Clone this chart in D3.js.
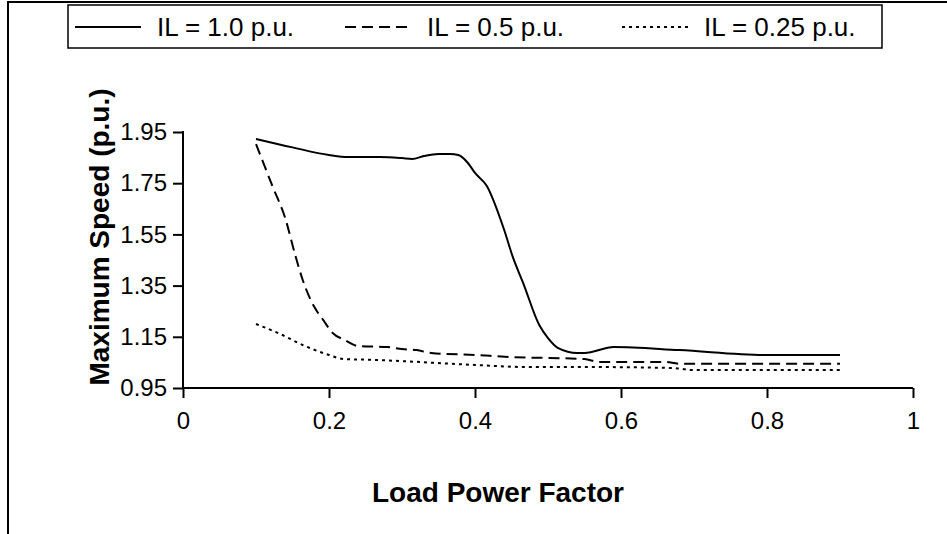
<!DOCTYPE html>
<html>
<head>
<meta charset="utf-8">
<script src="https://cdn.jsdelivr.net/npm/d3@7"></script>
<style>
  body { margin: 0; background: #fff; }
  svg { display: block; font-family: "Liberation Sans", Arial, sans-serif; }
</style>
</head>
<body>
<svg id="chart" width="947" height="534"></svg>
<script>
// load power factor vs maximum speed
const seriesNames = ["IL = 1.0 p.u.", "IL = 0.5 p.u.", "IL = 0.25 p.u."];

const pf10 = [0.10, 0.15, 0.20, 0.226, 0.27, 0.30, 0.314, 0.33, 0.35, 0.366, 0.377, 0.39, 0.40, 0.416, 0.44, 0.452, 0.466, 0.488, 0.50, 0.514, 0.54, 0.55, 0.59, 0.68, 0.80, 0.90];
const speed10 = [1.923, 1.89, 1.86, 1.852, 1.852, 1.848, 1.845, 1.856, 1.864, 1.864, 1.86, 1.83, 1.79, 1.74, 1.567, 1.46, 1.36, 1.196, 1.145, 1.106, 1.087, 1.087, 1.11, 1.098, 1.079, 1.079];

const pf05 = [0.10, 0.123, 0.14, 0.153, 0.164, 0.18, 0.192, 0.205, 0.222, 0.24, 0.28, 0.30, 0.32, 0.34, 0.40, 0.45, 0.55, 0.57, 0.66, 0.68, 0.90];
const speed05 = [1.903, 1.735, 1.614, 1.477, 1.372, 1.266, 1.216, 1.165, 1.137, 1.114, 1.11, 1.102, 1.098, 1.087, 1.079, 1.071, 1.063, 1.052, 1.052, 1.045, 1.045];

const pf025 = [0.10, 0.133, 0.164, 0.20, 0.22, 0.26, 0.30, 0.40, 0.47, 0.55, 0.67, 0.70, 0.90];
const speed025 = [1.20, 1.161, 1.118, 1.079, 1.063, 1.06, 1.055, 1.04, 1.032, 1.032, 1.028, 1.02, 1.02];

const xTicks = [0, 0.2, 0.4, 0.6, 0.8, 1];
const yTicks = [0.95, 1.15, 1.35, 1.55, 1.75, 1.95];

const svg = d3.select("#chart");
const plotLeft = 183, plotRight = 913, plotTop = 132, plotBottom = 388;

const x = d3.scaleLinear().domain([0, 1]).range([plotLeft, plotRight]);
const y = d3.scaleLinear().domain([0.95, 1.95]).range([plotBottom, plotTop]);

// outer frame (runs off the right and bottom edges)
svg.append("rect")
    .attr("x", 8).attr("y", 2)
    .attr("width", 960).attr("height", 560)
    .attr("fill", "none").attr("stroke", "#000").attr("stroke-width", 2);

// axes
const xAxis = svg.append("g")
    .attr("transform", `translate(0,${plotBottom})`)
    .call(d3.axisBottom(x).tickValues(xTicks).tickSize(10).tickPadding(14)
        .tickFormat(d => d3.format("")(d)));
const yAxis = svg.append("g")
    .attr("transform", `translate(${plotLeft},0)`)
    .call(d3.axisLeft(y).tickValues(yTicks).tickSize(10).tickPadding(6)
        .tickFormat(d3.format(".2f")));

[xAxis, yAxis].forEach(g => {
    g.select(".domain").attr("stroke-width", 2);
    g.selectAll(".tick line").attr("stroke-width", 2);
    g.selectAll("text").attr("font-size", 24).attr("fill", "#000")
        .attr("font-family", "'Liberation Sans', Arial, sans-serif");
});
xAxis.select(".domain").attr("d", `M${plotLeft},0H${plotRight}`);
yAxis.select(".domain").attr("d", `M0,${plotBottom}V${plotTop - 1}`);

// axis titles
svg.append("text")
    .attr("x", 498).attr("y", 502)
    .attr("text-anchor", "middle")
    .attr("font-size", 28).attr("font-weight", "bold")
    .text("Load Power Factor");

svg.append("text")
    .attr("transform", `translate(109,237) rotate(-90)`)
    .attr("text-anchor", "middle")
    .attr("font-size", 28).attr("font-weight", "bold")
    .text("Maximum Speed (p.u.)");

// series
const dashes = [null, "11,6", "3,4"];
const series = [
    d3.zip(pf10, speed10),
    d3.zip(pf05, speed05),
    d3.zip(pf025, speed025)
];
const line = d3.line().x(d => x(d[0])).y(d => y(d[1])).curve(d3.curveMonotoneX);

series.forEach((s, i) => {
    svg.append("path")
        .datum(s)
        .attr("d", line)
        .attr("fill", "none")
        .attr("stroke", "#000")
        .attr("stroke-width", 2)
        .attr("stroke-dasharray", dashes[i]);
});

// legend
const legend = svg.append("g");
legend.append("rect")
    .attr("x", 68).attr("y", 5)
    .attr("width", 814).attr("height", 43)
    .attr("fill", "#fff").attr("stroke", "#000").attr("stroke-width", 1.5);

const itemX = [75, 345, 622];
seriesNames.forEach((name, i) => {
    legend.append("line")
        .attr("x1", itemX[i]).attr("x2", itemX[i] + 66)
        .attr("y1", 27).attr("y2", 27)
        .attr("stroke", "#000").attr("stroke-width", 2)
        .attr("stroke-dasharray", dashes[i]);
    legend.append("text")
        .attr("x", itemX[i] + 82).attr("y", 36)
        .attr("font-size", 26)
        .text(name);
});
</script>
</body>
</html>
